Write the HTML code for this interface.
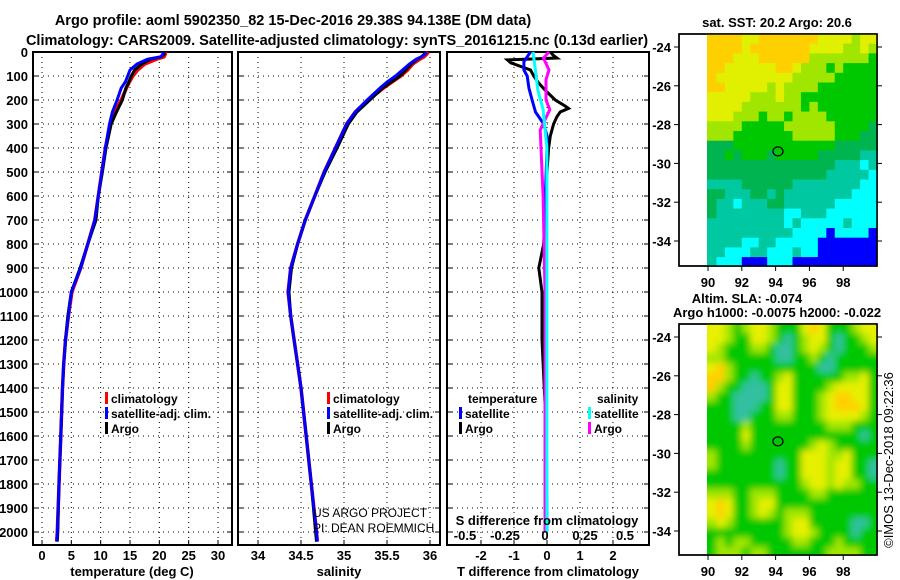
<!DOCTYPE html>
<html><head><meta charset="utf-8"><style>
body{margin:0;background:#fff;}
svg{display:block;font-family:"Liberation Sans",sans-serif;font-weight:bold;}
</style></head><body>
<svg id="c" width="900" height="580" viewBox="0 0 900 580" xmlns="http://www.w3.org/2000/svg">
<defs>
<clipPath id="m1"><rect x="707" y="34" width="170" height="232"/></clipPath>
<clipPath id="m2"><rect x="707" y="324" width="170" height="231"/></clipPath>
<filter id="bl" x="-10%" y="-10%" width="120%" height="120%"><feGaussianBlur stdDeviation="3.5"/></filter>
</defs>
<text x="293" y="25" font-size="14.5" text-anchor="middle">Argo profile: aoml 5902350_82 15-Dec-2016 29.38S 94.138E (DM data)</text>
<text x="337" y="45" font-size="14.5" text-anchor="middle">Climatology: CARS2009. Satellite-adjusted climatology: synTS_20161215.nc (0.13d earlier)</text>
<g id="g"></g>
</svg>
<script>
// ---- profile data ----
const depths=[0,10,20,30,50,75,100,125,150,200,250,300,400,500,600,700,800,900,1000,1100,1200,1300,1400,1600,1800,2000,2040];
const argoT=[20.8,20.8,20.3,18.5,17,15.8,15.2,14.8,14.3,13.7,12.7,11.8,10.9,10.3,9.6,9.2,7.8,6.5,5,4.4,4,3.7,3.5,3.2,2.9,2.7,2.6];
const climT=[21,21,20.8,19.5,17.5,16.3,15.5,14.9,14.4,13.5,12.4,11.6,10.8,10.2,9.6,9.0,7.8,6.6,5.1,4.5,4.0,3.7,3.5,3.2,2.9,2.6,2.5];
const satT=[20.6,20.6,20.2,18,16.2,15,14.6,14.2,13.5,12.8,12,11.5,10.8,10.2,9.6,9.0,7.8,6.6,5.0,4.5,4.0,3.7,3.5,3.2,2.9,2.6,2.5];
const argoS=[35.95,35.93,35.9,35.85,35.78,35.72,35.65,35.55,35.45,35.3,35.15,35.05,34.92,34.78,34.66,34.55,34.46,34.39,34.36,34.38,34.42,34.46,34.5,34.56,34.62,34.67,34.68];
const climS=[35.98,35.96,35.93,35.88,35.8,35.74,35.66,35.56,35.46,35.28,35.13,35.03,34.9,34.77,34.66,34.55,34.46,34.38,34.35,34.38,34.42,34.46,34.5,34.56,34.62,34.68,34.69];
const satS=[35.96,35.94,35.9,35.84,35.76,35.68,35.6,35.5,35.42,35.27,35.13,35.03,34.9,34.77,34.66,34.55,34.46,34.38,34.35,34.38,34.42,34.46,34.5,34.56,34.62,34.68,34.69];
const dDepthA=[0,15,25,33,45,60,75,100,130,160,200,225,235,250,270,300,350,400,500,600,800,900,1000,1200,1500,2000];
const dTargo=[0.1,0.2,0.3,-1.2,-1.1,-0.8,-0.5,-0.4,-0.25,-0.05,0.25,0.55,0.65,0.4,0.3,0.2,0.1,0.05,0,-0.05,-0.1,-0.25,-0.15,-0.15,-0.05,0];
const dDepthB=[0,20,40,75,100,150,200,250,300,350,400,600,1000,2000];
const dTsat=[-0.5,-0.6,-0.7,-0.7,-0.6,-0.55,-0.45,-0.35,-0.1,0,0,-0.05,-0.05,0];
const dDepthS=[0,25,75,115,200,240,325,400,600,1000,2000];
const dSargo=[0.025,-0.01,0.025,0.006,0.006,0.03,-0.03,-0.025,-0.012,0,0];
const dDepthC=[0,75,158,240,400,1000,2000];
const dSsat=[-0.075,-0.06,-0.045,-0.012,0.012,0.012,0.012];
const depthTicks=[0,100,200,300,400,500,600,700,800,900,1000,1100,1200,1300,1400,1500,1600,1700,1800,1900,2000];
const tTicks=[0,5,10,15,20,25,30];
const sTicks=[34,34.5,35,35.5,36];
const dtTicks=[-2,-1,0,1,2];
const dsTicks=[-0.5,-0.25,0,0.25,0.5];
// ---- maps (0.5 degree cells, rows from -23.33 southward, cols from 90E) ----
const sstRows=["77776677777776666566","77776777777766665565","77766677777755555554","77666666776555454444","76666666665555544444","77666665655554444444","66666555655444444444","66665555555454444444","66655545545555444444","55554444455555544443","55544444445555544433","33344444444444433333","33434443444443333322","33333333333333322212","33333333333333222221","22223333332222222211","33222332322222222111","32212223322222211111","32222222211222111111","22222222212111112111","22222222221111011110","22221122111110000000","22111221112110000000","21110001110000000000"];
const slaRows=["33212332111343111233","33211332101233101123","32111221001232101112","22111111001121011111","34211111111110011111","44211011231111112231","42110001331111233331","21100001331112344331","11100011331112344431","11100111221112333321","11112111111111222111","11113111111111111101","11112111111123211111","21111111111333223111","21111111011333233110","11111111011333233110","11111111111233232211","22211222111122111111","34311233111111111111","34311232122211111111","23211111123311111001","11111111123321111011","12122111112211121111","12221221111111222211"];
const sstPal=["#0000ff","#00ffff","#00c8a0","#00b450","#00c800","#a0e600","#e0f000","#ffd000"];
const slaPal=["#30c0a0","#00c800","#a0e600","#e6f000","#ffd000"];
const lonTicks=[90,92,94,96,98];
const latTicks=[-24,-26,-28,-30,-32,-34];

const NS="http://www.w3.org/2000/svg";
const G=document.getElementById('g');
function mk(t,a,p){const e=document.createElementNS(NS,t);for(const k in a)e.setAttribute(k,a[k]);(p||G).appendChild(e);return e;}
const Y0=52,YS=0.24; const yD=d=>Y0+d*YS;
const x1=t=>42+t*5.867, x2=s=>258+(s-34)*86, x3T=t=>547+t*33, x3S=s=>545+s*160;
const panels=[[33,232],[238,440],[447,649]];
const PB=545;
panels.forEach((p,i)=>{
  const f=mk('rect',{x:p[0],y:Y0,width:p[1]-p[0],height:PB-Y0,fill:'none',stroke:'#000','stroke-width':2});
  
  
  depthTicks.forEach(d=>{
    const l=mk('line',{x1:p[0],x2:p[1],y1:yD(d),y2:yD(d),stroke:'#000','stroke-dasharray':'1 4'});
    
    
    mk('line',{x1:p[0],x2:p[0]+5,y1:yD(d),y2:yD(d),stroke:'#000'});
    mk('line',{x1:p[1]-5,x2:p[1],y1:yD(d),y2:yD(d),stroke:'#000'});
  });
});
depthTicks.forEach(d=>{
  const t=mk('text',{x:28,y:yD(d)+5,'font-size':13,'text-anchor':'end'});t.textContent=d;
  
  
});
function vgrid(xs,fn,labels,ly){
  xs.forEach((v,i)=>{const x=fn(v);
    mk('line',{x1:x,x2:x,y1:Y0,y2:PB,stroke:'#000','stroke-dasharray':'1 4'});
    mk('line',{x1:x,x2:x,y1:PB-5,y2:PB,stroke:'#000'});
    const t=mk('text',{x:x,y:ly,'font-size':13,'text-anchor':'middle'});t.textContent=labels[i];
    
    
  });
}
vgrid(tTicks,x1,tTicks.map(String),560);
vgrid(sTicks,x2,sTicks.map(String),560);
vgrid(dtTicks,x3T,dtTicks.map(String),560);
function path(xs,ds,fx,col,w,name){
  const d=xs.map((v,i)=>(i?'L':'M')+fx(v).toFixed(1)+' '+yD(ds[i]).toFixed(1)).join(' ');
  const e=mk('path',{d:d,fill:'none',stroke:col,'stroke-width':w||3});
  
  
}
path(climT,depths,x1,'#ff0000',3.5,'temp-climatology-line');
path(argoT,depths,x1,'#000',3,'temp-argo-line');
path(satT,depths,x1,'#0000ff',3,'temp-satellite-line');
path(climS,depths,x2,'#ff0000',3.5,'sal-climatology-line');
path(argoS,depths,x2,'#000',3,'sal-argo-line');
path(satS,depths,x2,'#0000ff',3,'sal-satellite-line');
path(dTargo,dDepthA,x3T,'#000',3,'tdiff-argo-line');
path(dTsat,dDepthB,x3T,'#0000ff',3,'tdiff-satellite-line');
path(dSargo,dDepthS,x3S,'#ff00ff',3,'sdiff-argo-line');
path(dSsat,dDepthC,x3S,'#00ffff',3,'sdiff-satellite-line');
const st=mk('text',{x:547,y:525,'font-size':13,'text-anchor':'middle'});st.textContent='S difference from climatology';

dsTicks.forEach(v=>{const t=mk('text',{x:x3S(v),y:540,'font-size':13,'text-anchor':'middle'});t.textContent=String(v);
 });
[['temperature (deg C)',132,'temperature-axis-title'],['salinity',339,'salinity-axis-title'],['T difference from climatology',548,'t-diff-axis-title']].forEach(a=>{
 const t=mk('text',{x:a[1],y:576,'font-size':13,'text-anchor':'middle'});t.textContent=a[0];
 });
function leg(x,y,col,label,name){
  mk('rect',{x:x,y:y-11,width:3,height:12,fill:col});
  const t=mk('text',{x:x+6,y:y,'font-size':12,stroke:'#fff','stroke-width':3,'paint-order':'stroke'});t.textContent=label;
  
}
leg(105,403,'#ff0000','climatology','legend-climatology');
leg(105,418,'#0000ff','satellite-adj. clim.','legend-satellite-adj');
leg(105,433,'#000','Argo','legend-argo');
leg(327,403,'#ff0000','climatology','legend-climatology-2');
leg(327,418,'#0000ff','satellite-adj. clim.','legend-satellite-adj-2');
leg(327,433,'#000','Argo','legend-argo-2');
const lt=mk('text',{x:468,y:403,'font-size':12,stroke:'#fff','stroke-width':3,'paint-order':'stroke'});lt.textContent='temperature';

const ls=mk('text',{x:597,y:403,'font-size':12,stroke:'#fff','stroke-width':3,'paint-order':'stroke'});ls.textContent='salinity';

leg(459,418,'#0000ff','satellite','legend-t-satellite');
leg(459,433,'#000','Argo','legend-t-argo');
leg(588,418,'#00ffff','satellite','legend-s-satellite');
leg(588,433,'#ff00ff','Argo','legend-s-argo');
const u1=mk('text',{x:313,y:517,'font-size':12,'font-weight':'normal'});u1.textContent='US ARGO PROJECT';

const u2=mk('text',{x:313,y:532,'font-size':12,'font-weight':'normal'});u2.textContent='PI: DEAN ROEMMICH';

// ---- maps ----
const LON0=89.94,LONS=16.9,LAT0=-23.33,LATS=19.4;
const mx=l=>707+(l-LON0)*LONS;
function drawMap(rows,pal,top,bot,clip,blur,name){
  const my=la=>top+(LAT0-la)*LATS;
  mk('rect',{x:679,y:top,width:198,height:bot-top,fill:'none',stroke:'#000','stroke-width':1.5});
  const g=mk('g',{'clip-path':'url(#'+clip+')'});
  
  const inner=mk('g',blur?{filter:'url(#bl)'}:{},g);
  const nr=rows.length,nc=rows[0].length;
  const cw=0.5*LONS, ch=0.5*LATS;
  rows.forEach((r,i)=>{[...r].forEach((c,j)=>{
    let x=mx(90+0.5*j)-(j==0?2:0), y=my(LAT0-0.5*i), w=cw+0.6+(j==0?2:0)+(j==nc-1?10:0), h=ch+0.6+(i==nr-1?10:0);
    if(blur){ if(j==0){x-=10;w+=10;} if(i==0){y-=10;h+=10;} }
    const e=mk('rect',{x:x.toFixed(2),y:y.toFixed(2),width:w.toFixed(2),height:h.toFixed(2),fill:pal[+c]},inner);
    
    
  });});
  const f=mk('rect',{x:679,y:top,width:198,height:bot-top,fill:'none',stroke:'#000','stroke-width':1.5});
  
  latTicks.forEach(la=>{const y=my(la);
    mk('line',{x1:877,x2:882,y1:y,y2:y,stroke:'#000'});
    mk('line',{x1:674,x2:679,y1:y,y2:y,stroke:'#000'});
    const t=mk('text',{x:671,y:y+5,'font-size':13,'text-anchor':'end'});t.textContent=la;
    });
  lonTicks.forEach(lo=>{const x=mx(lo);
    mk('line',{x1:x,x2:x,y1:bot,y2:bot+5,stroke:'#000'});
    const t=mk('text',{x:x,y:bot+21,'font-size':13,'text-anchor':'middle'});t.textContent=lo;
    });
  const c=mk('ellipse',{cx:mx(94.138),cy:my(-29.38),rx:5,ry:4.5,fill:'none',stroke:'#000','stroke-width':1.3});
  
}
drawMap(sstRows,sstPal,34,266,'m1',false,'sst-map');
drawMap(slaRows,slaPal,324,555,'m2',true,'sla-map');
[['sat. SST: 20.2  Argo: 20.6',777,27,'sst-map-title'],['Altim. SLA: -0.074',747,303,'sla-map-title'],['Argo h1000: -0.0075 h2000: -0.022',777,317,'sla-map-subtitle']].forEach(a=>{
 const t=mk('text',{x:a[1],y:a[2],'font-size':13,'text-anchor':'middle'});t.textContent=a[0];
 });
const ts=mk('text',{x:0,y:0,'font-size':13,'font-weight':'normal','text-anchor':'middle',transform:'translate(893,460) rotate(-90)'});ts.textContent='©IMOS 13-Dec-2018 09:22:36';

</script>
</body></html>
